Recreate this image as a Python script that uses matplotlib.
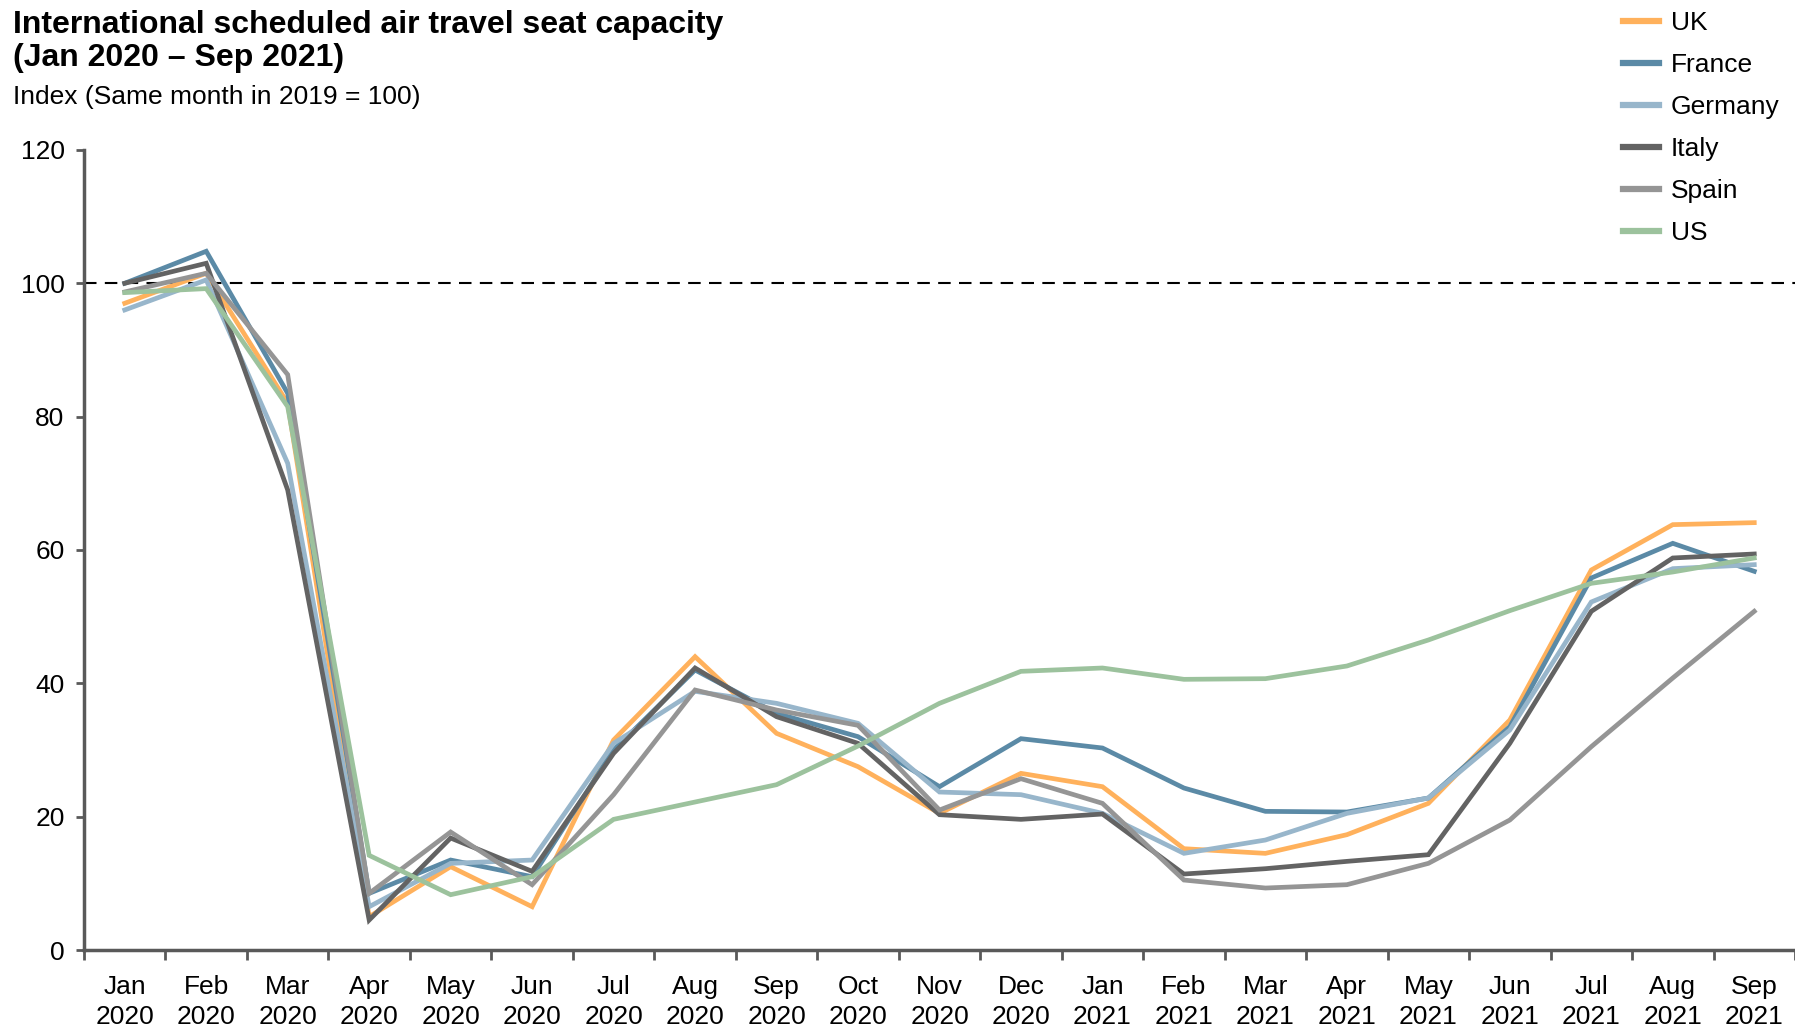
import numpy as np
import matplotlib
matplotlib.use("Agg")
import matplotlib.pyplot as plt

plt.rcParams['font.family'] = ['Liberation Sans', 'DejaVu Sans']

# months along the x axis
months = ['Jan\n2020', 'Feb\n2020', 'Mar\n2020', 'Apr\n2020', 'May\n2020', 'Jun\n2020',
          'Jul\n2020', 'Aug\n2020', 'Sep\n2020', 'Oct\n2020', 'Nov\n2020', 'Dec\n2020',
          'Jan\n2021', 'Feb\n2021', 'Mar\n2021', 'Apr\n2021', 'May\n2021', 'Jun\n2021',
          'Jul\n2021', 'Aug\n2021', 'Sep\n2021']

# index values (same month in 2019 = 100)
uk      = [97.0, 101.5, 82.0, 5.0, 12.5, 6.5, 31.5, 44.0, 32.5, 27.5, 20.5, 26.5,
           24.5, 15.2, 14.5, 17.3, 22.0, 34.5, 57.0, 63.8, 64.1]
france  = [100.0, 104.8, 83.5, 8.5, 13.5, 11.0, 30.0, 42.0, 35.5, 32.0, 24.5, 31.7,
           30.3, 24.3, 20.8, 20.7, 22.8, 33.5, 55.8, 61.0, 56.8]
germany = [96.0, 100.5, 73.0, 6.5, 13.0, 13.5, 31.0, 38.8, 37.0, 34.0, 23.7, 23.3,
           20.5, 14.5, 16.5, 20.5, 22.8, 33.0, 52.2, 57.2, 57.8]
italy   = [100.0, 103.0, 69.0, 4.5, 16.8, 11.8, 29.5, 42.3, 35.0, 31.0, 20.3, 19.6,
           20.4, 11.4, 12.2, 13.3, 14.3, 31.0, 50.8, 58.8, 59.4]
spain   = [98.7, 101.5, 86.3, 8.5, 17.7, 9.8, 23.3, 39.0, 36.0, 33.7, 21.0, 25.7,
           22.0, 10.5, 9.3, 9.8, 13.0, 19.5, 30.5, 40.8, 50.8]
us      = [98.6, 99.2, 81.5, 14.2, 8.3, 11.0, 19.6, 22.2, 24.8, 30.6, 37.0, 41.8,
           42.3, 40.6, 40.7, 42.6, 46.5, 50.9, 55.0, 56.7, 58.8]

series = [('UK', uk, '#FFB15C'),
          ('France', france, '#5B8AA6'),
          ('Germany', germany, '#98B6CB'),
          ('Italy', italy, '#636363'),
          ('Spain', spain, '#959595'),
          ('US', us, '#9CC29D')]

fig = plt.figure(figsize=(17.95, 10.34), dpi=100)
ax = fig.add_axes([0.0468, 0.0812, 0.9532, 0.7738])

x = np.arange(len(months))
for name, vals, col in series:
    ax.plot(x, vals, color=col, lw=3.4, label=name, solid_joinstyle='miter')

ax.axhline(100, color='black', lw=1.5, ls=(0, (6, 4)), zorder=0.5)

ax.set_xlim(-0.5, len(months) - 0.5)
ax.set_ylim(0, 120)
ax.set_yticks([0, 20, 40, 60, 80, 100, 120])
ax.set_xticks(x)
ax.set_xticklabels(months, fontsize=19, linespacing=1.3)
ax.set_xticks(np.arange(-0.5, len(months)), minor=True)
ax.tick_params(axis='x', which='major', length=0, pad=18)
ax.tick_params(axis='x', which='minor', length=7, width=2, color='#595959', direction='out')
ax.tick_params(axis='y', length=6, width=2, color='#595959', labelsize=19, pad=8)

for s in ['top', 'right']:
    ax.spines[s].set_visible(False)
for s in ['left', 'bottom']:
    ax.spines[s].set_color('#595959')
    ax.spines[s].set_linewidth(2.5)

fig.text(0.007, 0.99, 'International scheduled air travel seat capacity\n(Jan 2020 \u2013 Sep 2021)',
         fontsize=23, fontweight='bold', va='top', ha='left', linespacing=1.13)
fig.text(0.007, 0.918, 'Index (Same month in 2019 = 100)', fontsize=19, va='top', ha='left')

leg = fig.legend(loc='upper left', bbox_to_anchor=(0.891, 1.012), frameon=False,
                 fontsize=19, handlelength=1.35, handletextpad=0.45, labelspacing=0.68)
for h in leg.get_lines():
    h.set_linewidth(4.5)

fig.savefig('out.png', dpi=100)
